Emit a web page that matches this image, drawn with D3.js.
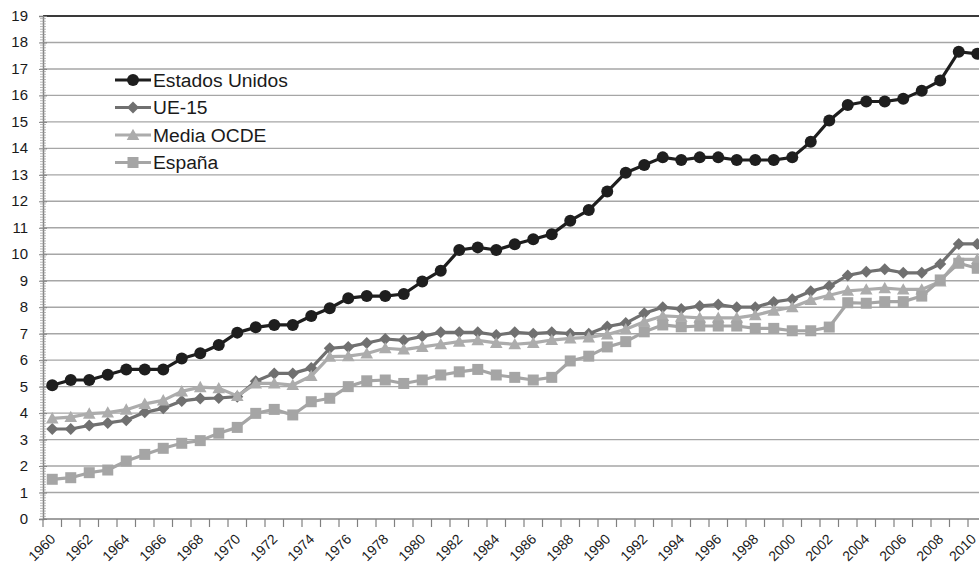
<!DOCTYPE html>
<html>
<head>
<meta charset="utf-8">
<script src="https://cdn.jsdelivr.net/npm/d3@7/dist/d3.min.js"></script>
<style>
  body { margin: 0; background: #fff; }
  svg { display: block; font-family: "Liberation Sans", Arial, sans-serif; }
</style>
</head>
<body>
<svg id="chart" width="979" height="566"></svg>
<script>
const years = d3.range(1960, 2011);
const yTicks = d3.range(0, 20);
const xTickLabels = d3.range(1960, 2011, 2);

const estadosUnidos = [5.05,5.25,5.25,5.45,5.65,5.65,5.65,6.06,6.26,6.57,7.04,7.24,7.33,7.33,7.67,7.96,8.34,8.42,8.42,8.5,8.97,9.38,10.16,10.26,10.16,10.38,10.57,10.76,11.27,11.67,12.37,13.08,13.37,13.66,13.56,13.66,13.66,13.56,13.56,13.56,13.66,14.25,15.05,15.64,15.77,15.77,15.87,16.18,16.56,17.65,17.57];
const ue15 = [3.4,3.4,3.53,3.63,3.73,4.03,4.18,4.46,4.55,4.57,4.62,5.2,5.5,5.5,5.7,6.45,6.5,6.65,6.8,6.75,6.9,7.05,7.05,7.05,6.95,7.05,7.0,7.05,7.0,7.0,7.27,7.4,7.77,8.0,7.93,8.05,8.1,8.0,8.0,8.2,8.3,8.6,8.8,9.2,9.34,9.43,9.3,9.3,9.63,10.39,10.39];
const mediaOCDE = [3.8,3.85,3.98,4.02,4.13,4.35,4.48,4.82,4.98,4.94,4.65,5.12,5.12,5.06,5.4,6.13,6.15,6.25,6.45,6.4,6.5,6.6,6.7,6.75,6.65,6.6,6.65,6.76,6.82,6.86,6.97,7.17,7.45,7.67,7.64,7.6,7.6,7.6,7.7,7.87,8.0,8.27,8.45,8.62,8.67,8.72,8.67,8.67,8.97,9.81,9.81];
const espana = [1.5,1.56,1.75,1.85,2.19,2.44,2.67,2.86,2.96,3.24,3.46,3.99,4.14,3.93,4.43,4.56,5.0,5.22,5.25,5.12,5.25,5.44,5.56,5.65,5.44,5.35,5.25,5.35,5.97,6.15,6.5,6.7,7.07,7.33,7.26,7.29,7.29,7.29,7.2,7.2,7.11,7.11,7.25,8.17,8.15,8.21,8.21,8.42,9.03,9.66,9.47];

const seriesNames = ["Estados Unidos", "UE-15", "Media OCDE", "España"];

(function () {
const series = [
  { name: seriesNames[0], values: estadosUnidos, color: "#1e1e1e", marker: "circle" },
  { name: seriesNames[1], values: ue15, color: "#707070", marker: "diamond" },
  { name: seriesNames[2], values: mediaOCDE, color: "#acacac", marker: "triangle" },
  { name: seriesNames[3], values: espana, color: "#a5a5a5", marker: "square" }
];

const STRETCH = 1.07;
const W = 979;
const svg = d3.select("#chart");
const mLeft = 43, mTop = 16, mBottom = 519;
const bandW = 18.5;
const mRight = mLeft + bandW * years.length;

const x = d3.scaleBand().domain(years).range([mLeft, mRight]).paddingInner(0).paddingOuter(0);
const y = d3.scaleLinear().domain([0, 19]).range([mBottom, mTop]);
const cx = d => x(d) + x.bandwidth() / 2;

// gridlines
svg.append("g").selectAll("line").data(yTicks.filter(t => t > 0)).join("line")
  .attr("x1", mLeft).attr("x2", W)
  .attr("y1", d => y(d)).attr("y2", d => y(d))
  .attr("stroke", d => d === 19 ? "#3a3a3a" : "#a6a6a6")
  .attr("stroke-width", d => d === 19 ? 1.8 : 1.4);

// y axis
const yAxis = svg.append("g").attr("transform", `translate(${mLeft},0)`)
  .call(d3.axisLeft(y).tickValues(yTicks).tickSize(4).tickPadding(15 / STRETCH - 4).tickFormat(d3.format("d")));
yAxis.select(".domain").attr("stroke", "#808080").attr("stroke-width", 1.5);
yAxis.selectAll(".tick line").attr("stroke", "#808080").attr("x2", -4).attr("x1", 4);
yAxis.selectAll("text").attr("font-size", 14).attr("fill", "#1a1a1a")
  .attr("font-family", "'Liberation Sans', Arial, sans-serif")
  .attr("transform", `scale(${STRETCH},1)`);
// minor ticks
svg.append("g").selectAll("line").data(d3.range(0, 190).map(i => i / 10)).join("line")
  .attr("x1", mLeft - 3).attr("x2", mLeft + 3)
  .attr("y1", d => y(d)).attr("y2", d => y(d))
  .attr("stroke", "#9a9a9a").attr("stroke-width", 0.7);

// x axis
svg.append("line").attr("x1", mLeft).attr("x2", W).attr("y1", mBottom).attr("y2", mBottom)
  .attr("stroke", "#808080").attr("stroke-width", 1.5);
svg.append("g").selectAll("line").data(years.concat([2011])).join("line")
  .attr("x1", d => d === 2011 ? mRight : x(d)).attr("x2", d => d === 2011 ? mRight : x(d))
  .attr("y1", mBottom).attr("y2", mBottom + 8)
  .attr("stroke", "#808080").attr("stroke-width", 1.2);
svg.append("g").selectAll("text").data(xTickLabels).join("text")
  .attr("transform", d => `translate(${Math.min(cx(d) + 4, W - 2)},${mBottom + 21}) rotate(-45)`)
  .attr("text-anchor", "end")
  .attr("font-size", 14).attr("fill", "#1a1a1a")
  .text(d => d);

// markers
function drawMarker(g, type, color, px, py) {
  if (type === "circle") {
    g.append("circle").attr("cx", px).attr("cy", py).attr("r", 6).attr("fill", color);
  } else if (type === "diamond") {
    const s = 6;
    g.append("path").attr("d", `M${px},${py - s}L${px + s},${py}L${px},${py + s}L${px - s},${py}Z`).attr("fill", color);
  } else if (type === "triangle") {
    const s = 6.3;
    g.append("path").attr("d", `M${px},${py - s}L${px + s},${py + s * 0.8}L${px - s},${py + s * 0.8}Z`).attr("fill", color);
  } else if (type === "square") {
    const s = 5.5;
    g.append("rect").attr("x", px - s).attr("y", py - s).attr("width", 2 * s).attr("height", 2 * s).attr("fill", color);
  }
}

const line = d3.line().x((d, i) => cx(years[i])).y(d => y(d));
const plot = svg.append("g");
series.forEach(s => {
  const g = plot.append("g");
  g.append("path").datum(s.values).attr("d", line)
    .attr("fill", "none").attr("stroke", s.color).attr("stroke-width", 3.2)
    .attr("stroke-linejoin", "round");
  s.values.forEach((v, i) => drawMarker(g, s.marker, s.color, cx(years[i]), y(v)));
});

// legend
const legend = svg.append("g");
series.forEach((s, i) => {
  const ly = 80 + i * 27.5;
  legend.append("line").attr("x1", 115).attr("x2", 151).attr("y1", ly).attr("y2", ly)
    .attr("stroke", s.color).attr("stroke-width", 3.2);
  drawMarker(legend, s.marker, s.color, 133, ly);
  legend.append("text")
    .attr("transform", `translate(153,${ly + 6.5}) scale(${STRETCH},1)`)
    .attr("font-size", 18).attr("fill", "#1a1a1a").text(s.name);
});
})();
</script>
</body>
</html>
